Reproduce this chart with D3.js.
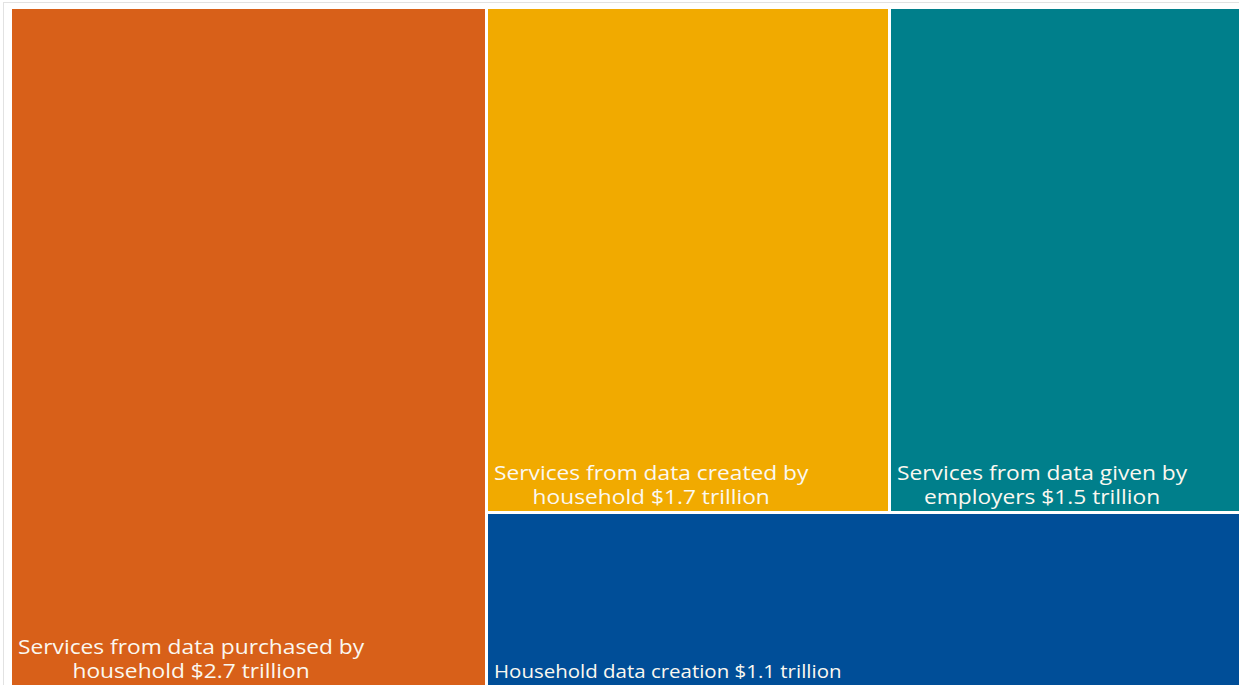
<!DOCTYPE html>
<html>
<head>
<meta charset="utf-8">
<script src="https://cdn.jsdelivr.net/npm/d3@7"></script>
<style>
  html, body { margin: 0; padding: 0; background: #fff; overflow: hidden; }
  svg { display: block; }
</style>
</head>
<body>
<svg id="chart" width="1239" height="685"></svg>
<script>
// Value of household data and data services, trillions of dollars
const categories = [
  "Services from data purchased by household",
  "Services from data created by household",
  "Services from data given by employers",
  "Household data creation"
];
const values = [2.7, 1.7, 1.5, 1.1];
const labelLines = [
  ["Services from data purchased by", "household $2.7 trillion"],
  ["Services from data created by", "household $1.7 trillion"],
  ["Services from data given by", "employers $1.5 trillion"],
  ["Household data creation $1.1 trillion"]
];
const colors = ["#D86019", "#F1AA00", "#007F8B", "#004E98"];
// label styling per tile: font size and horizontal stretch
const labelSize = [20.5, 20.5, 20.5, 17.5];
const labelStretch = [1.11, 1.11, 1.11, 1.17];

const svg = d3.select("#chart");

// chart-area frame
svg.append("rect")
  .attr("x", 3.5).attr("y", 2.5)
  .attr("width", 1300).attr("height", 800)
  .attr("fill", "none")
  .attr("stroke", "#e2e2e2");

// grouping: big tile | (top row of two tiles over one wide tile)
const item = i => ({ name: categories[i], value: values[i], idx: i });
const tree = {
  name: "root",
  children: [
    item(0),
    { name: "rest", children: [
      { name: "upper", children: [item(1), item(2)] },
      item(3)
    ]}
  ]
};

const root = d3.hierarchy(tree).sum(d => d.value || 0);

const plotLeft = 12, plotTop = 9, plotW = 1232, plotH = 676;
d3.treemap()
  .tile(d3.treemapSliceDice)
  .size([plotW, plotH])
  .paddingInner(3)
  .round(true)(root);

const g = svg.append("g").attr("transform", `translate(${plotLeft},${plotTop})`);

const leaves = g.selectAll("g.leaf")
  .data(root.leaves())
  .join("g")
  .attr("class", "leaf");

leaves.append("rect")
  .attr("x", d => d.x0)
  .attr("y", d => d.y0)
  .attr("width", d => d.x1 - d.x0)
  .attr("height", d => d.y1 - d.y0)
  .attr("fill", d => colors[d.data.idx]);

const lineH = 24.5;
leaves.each(function(d) {
  const i = d.data.idx;
  const lines = labelLines[i];
  const lastBase = d.y1 - 7;
  const t = d3.select(this).append("text")
    .attr("transform", `translate(${d.x0 + 6},${lastBase}) scale(${labelStretch[i]},1)`)
    .attr("font-family", "'Open Sans', sans-serif")
    .attr("font-size", labelSize[i])
    .attr("fill", "#fbf8f0")
    .attr("text-anchor", "middle");
  // measure the widest line so shorter lines centre under it
  const probe = t.append("tspan").text(lines[0]);
  const wMax = d3.max(lines, l => { probe.text(l); return probe.node().getComputedTextLength(); });
  probe.remove();
  lines.forEach((l, k) => {
    t.append("tspan")
      .attr("x", wMax / 2)
      .attr("y", -(lines.length - 1 - k) * lineH)
      .text(l);
  });
});
</script>
</body>
</html>
